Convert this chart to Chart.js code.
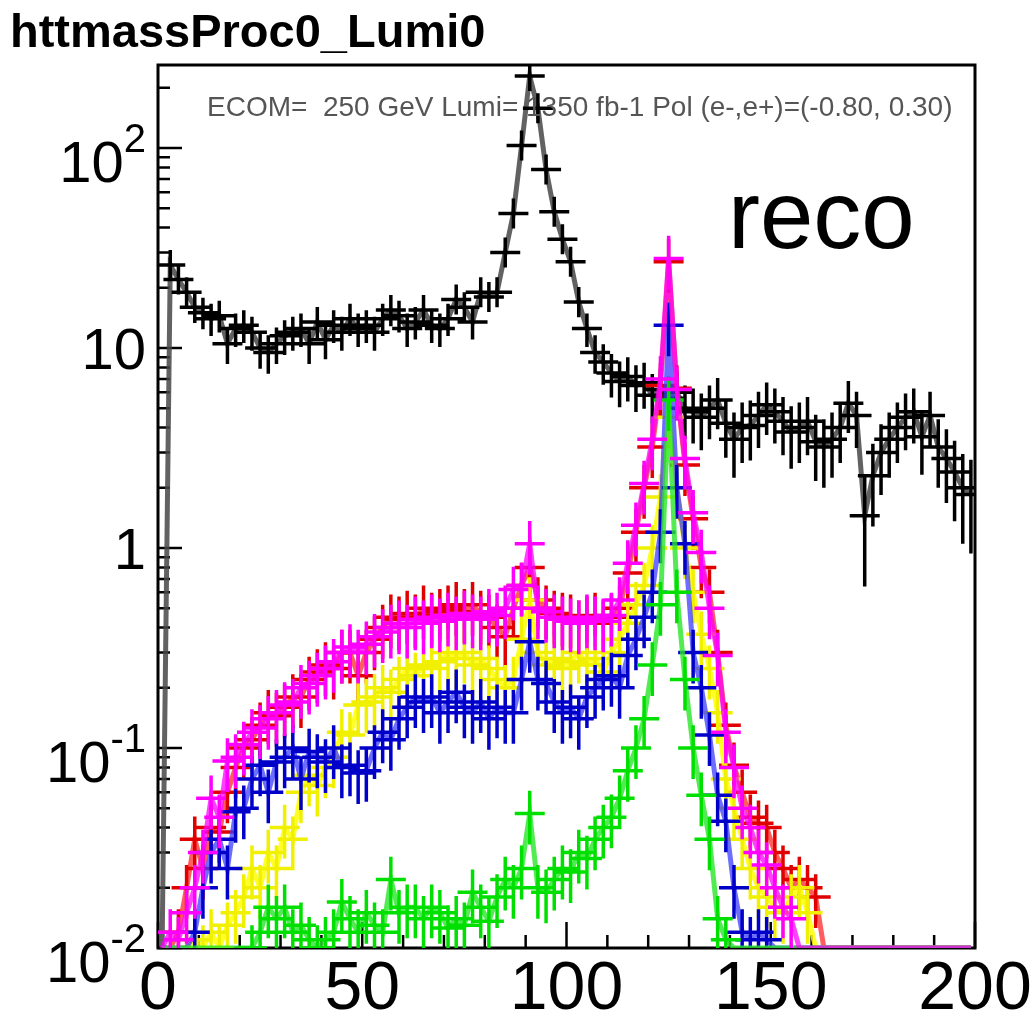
<!DOCTYPE html>
<html>
<head>
<meta charset="utf-8">
<script src="https://cdn.jsdelivr.net/npm/chart.js@4.4.1/dist/chart.umd.min.js"></script>
<style>
  html, body { margin: 0; padding: 0; background: #fff; }
  #wrap { width: 1032px; height: 1017px; }
</style>
</head>
<body>
<div id="wrap"><canvas id="c" width="1032" height="1017"></canvas></div>
<script>
// 100 bins of 2 GeV between 0 and 200
const binWidth = 2;
const nBins = 100;
const binCenters = [];
for (let i = 0; i < nBins; i++) binCenters.push(binWidth * i + binWidth / 2);

const yMin = 0.01, yMax = 260;
const xTickValues = [0, 50, 100, 150, 200];
const xTickLabels = ['0', '50', '100', '150', '200'];
const yTickValues = [0.01, 0.1, 1, 10, 100];
const yTickLabels = [['10', '-2'], ['10', '-1'], ['1', ''], ['10', ''], ['10', '2']];

const histTitle = 'httmassProc0_Lumi0';
const runInfo = 'ECOM=  250 GeV Lumi= 1350 fb-1 Pol (e-,e+)=(-0.80, 0.30)';
const stageLabel = 'reco';

// background (black), ten entries per row = 20 GeV
const hBlack = [
  0, 26, 22, 19, 16, 15, 14, 14.5, 10.5, 12.5,
  13, 12, 10, 9.5, 10.5, 11.5, 12, 12.5, 10.5, 13.5,
  11, 13, 12, 14, 12.5, 13, 12, 14, 15.5, 14.5,
  12.5, 13.5, 15.5, 13, 12.5, 14, 17.5, 16, 13.5, 19,
  18, 19, 30, 47, 103, 229, 158, 78, 48, 35,
  27, 17, 12.5, 9.5, 8.5, 7.5, 6.8, 7.2, 6.5, 6.7,
  5.8, 6.2, 5.6, 6.0, 5.0, 4.8, 4.5, 5.0, 5.5, 4.2,
  3.5, 4.0, 4.1, 4.6, 5.2, 4.8, 4.3, 3.8, 4.0, 4.3,
  3.4, 3.2, 3.5, 4.0, 5.3, 4.6, 1.45, 2.3, 3.0, 3.5,
  4.0, 4.5, 4.8, 3.6, 4.6, 3.2, 2.8, 2.4, 2.0, 1.85
];

const hRed = [
  0, 0, 0.012, 0.02, 0.035, 0.025, 0.04, 0.038, 0.06, 0.08,
  0.1, 0.11, 0.13, 0.15, 0.145, 0.16, 0.18, 0.18, 0.22, 0.24,
  0.26, 0.25, 0.3, 0.3, 0.23, 0.3, 0.35, 0.4, 0.45, 0.44,
  0.47, 0.45, 0.5, 0.46, 0.48, 0.5, 0.52, 0.48, 0.52, 0.47,
  0.45, 0.4, 0.36, 0.5, 0.65, 0.8, 0.55, 0.5, 0.47, 0.46,
  0.45, 0.42, 0.44, 0.46, 0.42, 0.45, 0.5, 0.75, 1.2, 2.0,
  3.2, 6.5, 27, 6.3, 2.6, 1.4, 0.8, 0.6, 0.3, 0.13,
  0.082, 0.06, 0.045, 0.042, 0.04, 0.03, 0.025, 0.02, 0.022, 0.02,
  0.018, 0, 0, 0, 0, 0, 0, 0, 0, 0,
  0, 0, 0, 0, 0, 0, 0, 0, 0, 0
];

const hYellow = [
  0, 0, 0, 0.01, 0.011, 0.01, 0.012, 0.01, 0.013, 0.015,
  0.018, 0.025, 0.02, 0.03, 0.025, 0.04, 0.035, 0.06, 0.073, 0.065,
  0.08, 0.09, 0.12, 0.116, 0.164, 0.17, 0.18, 0.2, 0.19, 0.22,
  0.25, 0.23, 0.26, 0.25, 0.27, 0.3, 0.28, 0.3, 0.26, 0.28,
  0.25, 0.22, 0.2, 0.22, 0.35, 0.55, 0.3, 0.26, 0.28, 0.25,
  0.27, 0.3, 0.26, 0.28, 0.24, 0.3, 0.35, 0.42, 0.52, 0.65,
  1.0, 1.8, 4.5, 2.0, 1.0, 0.6, 0.37, 0.25, 0.15, 0.07,
  0.05, 0.035, 0.025, 0.02, 0.018, 0.016, 0.015, 0.018, 0.02, 0.015,
  0, 0, 0, 0, 0, 0, 0, 0, 0, 0,
  0, 0, 0, 0, 0, 0, 0, 0, 0, 0
];

const hBlue = [
  0, 0, 0, 0, 0.012, 0.02, 0.03, 0.035, 0.025, 0.048,
  0.05, 0.07, 0.082, 0.06, 0.085, 0.09, 0.1, 0.07, 0.096, 0.09,
  0.085, 0.1, 0.08, 0.082, 0.075, 0.077, 0.1, 0.12, 0.11, 0.14,
  0.16, 0.18, 0.17, 0.18, 0.15, 0.17, 0.19, 0.16, 0.15, 0.17,
  0.14, 0.16, 0.15, 0.15, 0.22, 0.34, 0.22, 0.21, 0.17, 0.15,
  0.16, 0.14, 0.18, 0.2, 0.22, 0.23, 0.2, 0.29, 0.35, 0.45,
  0.6, 1.2, 13, 2.0, 1.05, 0.3, 0.2, 0.116, 0.058, 0.043,
  0.02, 0.012, 0.011, 0.012, 0.011, 0, 0, 0, 0, 0,
  0, 0, 0, 0, 0, 0, 0, 0, 0, 0,
  0, 0, 0, 0, 0, 0, 0, 0, 0, 0
];

const hGreen = [
  0, 0, 0, 0, 0, 0, 0, 0, 0, 0,
  0, 0.01, 0.012, 0.016, 0.014, 0.016, 0.012, 0.013, 0.011, 0.01,
  0.011, 0.012, 0.017, 0.014, 0.012, 0.015, 0.013, 0.012, 0.022, 0.015,
  0.016, 0.016, 0.014, 0.016, 0.015, 0.0126, 0.014, 0.013, 0.019, 0.016,
  0.0136, 0.018, 0.022, 0.02, 0.025, 0.047, 0.02, 0.019, 0.022, 0.025,
  0.024, 0.03, 0.028, 0.035, 0.04, 0.045, 0.056, 0.077, 0.1, 0.14,
  0.26, 0.52, 5.5, 0.6, 0.22, 0.1, 0.058, 0.035, 0.014, 0.011,
  0, 0, 0, 0, 0, 0, 0, 0, 0, 0,
  0, 0, 0, 0, 0, 0, 0, 0, 0, 0,
  0, 0, 0, 0, 0, 0, 0, 0, 0, 0
];

const hMagenta = [
  0, 0.012, 0.011, 0.015, 0.02, 0.03, 0.056, 0.045, 0.086, 0.09,
  0.104, 0.12, 0.126, 0.14, 0.15, 0.164, 0.17, 0.2, 0.21, 0.23,
  0.25, 0.27, 0.3, 0.32, 0.3, 0.33, 0.36, 0.38, 0.4, 0.42,
  0.4, 0.44, 0.42, 0.45, 0.43, 0.46, 0.44, 0.47, 0.45, 0.44,
  0.48, 0.46, 0.5, 0.62, 0.65, 1.05, 0.5, 0.48, 0.45, 0.44,
  0.43, 0.42, 0.45, 0.44, 0.43, 0.46, 0.55, 0.84, 1.3, 2.1,
  3.5, 7.0, 28, 6.2, 2.8, 1.5, 0.95, 0.5, 0.29, 0.12,
  0.08, 0.05, 0.04, 0.03, 0.026, 0.02, 0.016, 0.014, 0, 0,
  0, 0, 0, 0, 0, 0, 0, 0, 0, 0,
  0, 0, 0, 0, 0, 0, 0, 0, 0, 0
];

// drawing order: first entry at the bottom
const series = [
  { name: 'bkg',   values: hBlack,   line: 'rgba(70,70,70,0.85)',   mark: '#000000', weight: 0.45 },
  { name: 'red',   values: hRed,     line: 'rgba(255,40,40,0.75)',  mark: '#e00000', rel: 0.3 },
  { name: 'yel',   values: hYellow,  line: 'rgba(255,255,0,0.85)',  mark: '#f0f000', rel: 0.3 },
  { name: 'blue',  values: hBlue,    line: 'rgba(60,60,255,0.75)',  mark: '#0000c8', rel: 0.3 },
  { name: 'green', values: hGreen,   line: 'rgba(40,230,40,0.8)',   mark: '#00e000', rel: 0.3 },
  { name: 'mag',   values: hMagenta, line: 'rgba(255,0,255,0.75)',  mark: '#ff00ff', rel: 0.3 }
];

function binError(s, v) {
  return s.weight ? Math.sqrt(v * s.weight) : v * s.rel;
}

// empty bins sit on the floor of the log axis
const datasets = series.map((s, i) => ({
  label: s.name,
  data: binCenters.map((x, k) => ({ x: x, y: s.values[k] > 0 ? s.values[k] : yMin })),
  borderColor: s.line,
  borderWidth: 5,
  pointRadius: 0,
  tension: 0,
  fill: false,
  order: series.length - i
}));

const frame = {
  id: 'frame',
  beforeDatasetsDraw(chart) {
    const xs = chart.scales.x, ys = chart.scales.y, a = chart.chartArea;
    const ctx = chart.ctx;
    ctx.save();
    ctx.strokeStyle = '#000';
    ctx.lineWidth = 3;
    ctx.strokeRect(a.left, a.top, a.right - a.left, a.bottom - a.top);
    ctx.lineWidth = 2.5;
    ctx.beginPath();
    for (let x = 0; x <= 200; x += 10) {
      const px = xs.getPixelForValue(x);
      const len = x % 50 === 0 ? 26 : 13;
      ctx.moveTo(px, a.bottom); ctx.lineTo(px, a.bottom - len);
    }
    for (let d = -2; d <= 2; d++) {
      for (let m = 1; m <= 9; m++) {
        const v = m * Math.pow(10, d);
        if (v > ys.max) break;
        const py = ys.getPixelForValue(v);
        const len = m === 1 ? 24 : 12;
        ctx.moveTo(a.left, py); ctx.lineTo(a.left + len, py);
      }
    }
    ctx.stroke();
    ctx.restore();
  }
};

// '+' markers with vertical error bars, drawn right after each line
const markers = {
  id: 'markers',
  afterDatasetDraw(chart, args) {
    const s = series[args.index];
    const xs = chart.scales.x, ys = chart.scales.y, a = chart.chartArea;
    const ctx = chart.ctx;
    const half = 15;
    ctx.save();
    ctx.beginPath();
    ctx.rect(a.left, a.top, a.right - a.left, a.bottom - a.top);
    ctx.clip();
    ctx.strokeStyle = s.mark;
    ctx.lineWidth = 3.5;
    ctx.beginPath();
    s.values.forEach((v, k) => {
      if (!v) return;
      const err = binError(s, v);
      const px = xs.getPixelForValue(binCenters[k]);
      const py = ys.getPixelForValue(v);
      const up = Math.min(ys.getPixelForValue(v + err), py - half);
      const lo = v - err > 0 ? ys.getPixelForValue(v - err) : a.bottom + 4;
      ctx.moveTo(px - half, py); ctx.lineTo(px + half, py);
      ctx.moveTo(px, up); ctx.lineTo(px, Math.max(lo, py + half));
    });
    ctx.stroke();
    ctx.restore();
  },
  afterDraw(chart) {
    const xs = chart.scales.x, ys = chart.scales.y;
    const ctx = chart.ctx;
    ctx.save();
    ctx.fillStyle = '#000';
    ctx.textAlign = 'center';
    ctx.textBaseline = 'alphabetic';
    ctx.font = '68px "Liberation Sans", Arial, sans-serif';
    xTickValues.forEach((x, i) => {
      ctx.fillText(xTickLabels[i], xs.getPixelForValue(x), 1009);
    });
    ctx.textAlign = 'left';
    yTickValues.forEach((v, i) => {
      const py = ys.getPixelForValue(v);
      const [base, sup] = yTickLabels[i];
      ctx.font = '58px "Liberation Sans", Arial, sans-serif';
      const bw = ctx.measureText(base).width;
      ctx.font = '40px "Liberation Sans", Arial, sans-serif';
      const sw = sup ? ctx.measureText(sup).width : 0;
      const right = 146;
      const baseY = sup ? py + 34 : py + 21;
      ctx.font = '58px "Liberation Sans", Arial, sans-serif';
      ctx.fillText(base, right - sw - bw, baseY);
      if (sup) {
        ctx.font = '40px "Liberation Sans", Arial, sans-serif';
        ctx.fillText(sup, right - sw, baseY - 30);
      }
    });

    ctx.font = 'bold 47px "Liberation Sans", Arial, sans-serif';
    ctx.fillText(histTitle, 10, 47);
    ctx.fillStyle = '#555';
    ctx.font = '28px "Liberation Sans", Arial, sans-serif';
    ctx.fillText(runInfo, 207, 116);
    ctx.fillStyle = '#000';
    ctx.font = '96px "Liberation Sans", Arial, sans-serif';
    ctx.fillText(stageLabel, 728, 248);
    ctx.restore();
  }
};

new Chart(document.getElementById('c'), {
  type: 'line',
  data: { datasets: datasets },
  options: {
    responsive: false,
    animation: false,
    devicePixelRatio: 1,
    layout: { padding: { left: 158, right: 57, top: 65, bottom: 69 } },
    plugins: { legend: { display: false }, tooltip: { enabled: false } },
    scales: {
      x: { type: 'linear', min: 0, max: 200, display: false },
      y: { type: 'logarithmic', min: yMin, max: yMax, display: false }
    }
  },
  plugins: [frame, markers]
});
</script>
</body>
</html>
